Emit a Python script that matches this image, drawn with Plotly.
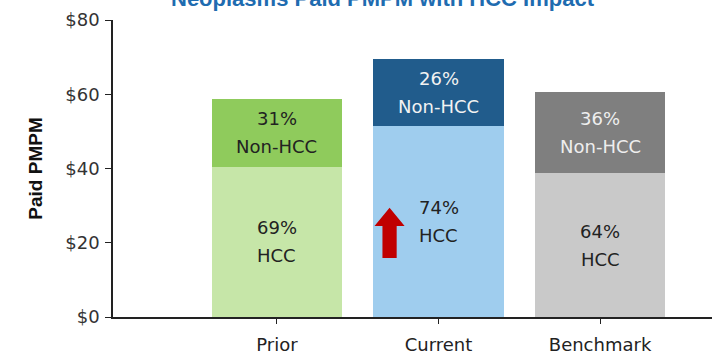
import plotly.graph_objects as go

# Paid PMPM by period, split into HCC / Non-HCC share
categories = ["Prior", "Current", "Benchmark"]
totals = [58.7, 69.6, 60.6]
hcc_pct = [69, 74, 64]
non_hcc_pct = [31, 26, 36]
y_ticks = [0, 20, 40, 60, 80]
y_tick_labels = ["$0", "$20", "$40", "$60", "$80"]
title_text = "Neoplasms Paid PMPM with HCC Impact"

hcc_colors = ["#c6e6a8", "#9fcdee", "#c9c9c9"]
non_hcc_colors = ["#8fcb5c", "#215c8c", "#7f7f7f"]
hcc_text_colors = ["#222222", "#222222", "#222222"]
non_hcc_text_colors = ["#222222", "#f2f2f2", "#eeeeee"]

xs = list(range(len(categories)))
hcc_vals = [t * p / 100 for t, p in zip(totals, hcc_pct)]
non_vals = [t * p / 100 for t, p in zip(totals, non_hcc_pct)]

FONT = "DejaVu Sans, Verdana, sans-serif"
BAR_W = 0.805
LABEL_SIZE = 18

fig = go.Figure()
fig.add_trace(go.Bar(
    x=xs, y=hcc_vals, width=BAR_W,
    marker=dict(color=hcc_colors, line=dict(width=0)),
    hoverinfo="skip", showlegend=False,
))
fig.add_trace(go.Bar(
    x=xs, y=non_vals, width=BAR_W,
    marker=dict(color=non_hcc_colors, line=dict(width=0)),
    hoverinfo="skip", showlegend=False,
))


def segment_label(x, y_mid, lines, color):
    # two-line label centred on a segment, with generous line spacing
    for line, shift in zip(lines, (14, -14)):
        fig.add_annotation(
            x=x, y=y_mid, xref="x", yref="y", text=line, showarrow=False,
            yshift=shift, xanchor="center", yanchor="middle",
            font=dict(family=FONT, size=LABEL_SIZE, color=color),
        )


for i in xs:
    segment_label(i, hcc_vals[i] / 2, (f"{hcc_pct[i]}%", "HCC"), hcc_text_colors[i])
    segment_label(i, hcc_vals[i] + non_vals[i] / 2, (f"{non_hcc_pct[i]}%", "Non-HCC"),
                  non_hcc_text_colors[i])

# Red up-arrow beside the Current HCC segment
cx = 1 - 0.303
hw, sw = 0.093, 0.044
tip, neck, base = 29.4, 24.5, 15.9
arrow = (f"M {cx} {tip} L {cx + hw} {neck} L {cx + sw} {neck} L {cx + sw} {base} "
         f"L {cx - sw} {base} L {cx - sw} {neck} L {cx - hw} {neck} Z")
fig.add_shape(type="path", path=arrow, xref="x", yref="y",
              fillcolor="#c00000", line=dict(width=0), layer="above")

fig.add_annotation(
    text=f"<b>{title_text}</b>", xref="paper", yref="paper",
    x=(383 - 113) / 599, y=1 + 21 / 297, xanchor="center", yanchor="middle",
    showarrow=False, font=dict(family="Liberation Sans, Arial, sans-serif", size=22, color="#1f6cb0"),
)

fig.update_layout(
    width=712, height=354,
    margin=dict(l=113, r=0, t=20, b=37),
    paper_bgcolor="white", plot_bgcolor="white",
    barmode="stack", bargap=0,
    xaxis=dict(
        range=[-1.015, 2.693], tickvals=xs, ticktext=categories,
        showline=True, linecolor="#222222", linewidth=1.5,
        ticks="outside", ticklen=5, tickcolor="#222222",
        showgrid=False, zeroline=False, ticklabelstandoff=6,
        tickfont=dict(family=FONT, size=18, color="#222222"),
    ),
    yaxis=dict(
        range=[0, 80], tickvals=y_ticks, ticktext=y_tick_labels,
        showline=True, linecolor="#222222", linewidth=1.5,
        ticks="outside", ticklen=6, tickcolor="#222222",
        showgrid=False, zeroline=False, ticklabelstandoff=2,
        tickfont=dict(family=FONT, size=18, color="#333333"),
        title=dict(text="<b>Paid PMPM</b>", standoff=18,
                   font=dict(family="Liberation Sans Narrow, Liberation Sans, Arial, sans-serif",
                             size=19, color="#111111")),
    ),
)

fig.write_html("out.html")
